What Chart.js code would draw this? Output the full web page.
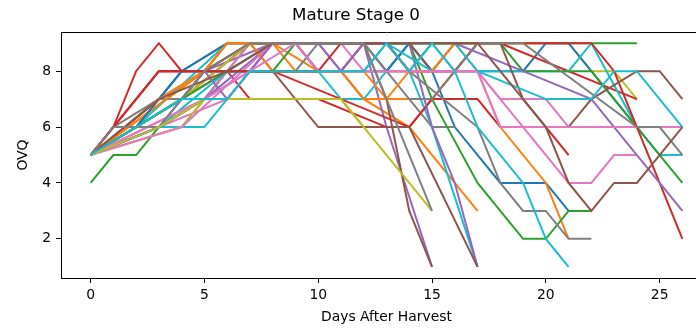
<!DOCTYPE html>
<html>
<head>
<meta charset="utf-8">
<script src="https://cdn.jsdelivr.net/npm/chart.js@4"></script>
<style>
  html, body { margin: 0; padding: 0; background: #fff; overflow: hidden; }
  #wrap { width: 712px; height: 329px; }
</style>
</head>
<body>
<div id="wrap"><canvas id="ovqChart" width="712" height="329"></canvas></div>
<script>
// OVQ readings per fruit: [day after harvest, score]
const seriesPoints = [
    [[0,5],[3,7],[4,8],[6,9],[14,9],[15,8],[16,6],[18,4],[20,4],[21,3]],
    [[0,5],[5,8],[6,9],[8,9],[9,8],[11,8],[12,7],[14,6],[17,3]],
    [[0,4],[1,5],[2,5],[3,6],[4,6],[5,7],[6,8],[7,9],[24,9]],
    [[0,5],[1,6],[2,8],[3,9],[4,8],[6,8],[7,7],[10,7],[13,6],[14,6],[15,7],[17,7],[18,6],[20,6],[21,5]],
    [[0,5],[4,7],[5,8],[8,9],[12,9],[13,6],[15,1]],
    [[0,5],[3,7],[7,9],[12,9],[13,7],[14,3],[15,1]],
    [[0,5],[6,7],[8,9],[9,9],[10,8],[17,8],[18,7],[21,4],[22,4],[23,5],[24,5]],
    [[0,5],[3,7],[5,7],[6,8],[11,8],[12,7],[14,7],[15,6],[16,6]],
    [[0,5],[4,7],[6,8],[8,9],[21,9],[22,8],[23,8],[24,7]],
    [[0,5],[3,6],[5,6],[7,8],[10,8],[11,7],[12,7],[13,8],[14,8],[15,6],[17,1]],
    [[0,5],[2,6],[4,7],[5,8],[13,8],[14,9],[15,8],[17,8],[19,8],[20,9],[21,9],[22,8],[24,6]],
    [[0,5],[5,8],[6,9],[12,9],[13,8],[15,8],[16,9],[17,8],[18,6],[20,4],[21,2]],
    [[0,5],[3,6],[5,7],[6,8],[8,9],[14,9],[15,7],[17,4],[19,2],[20,2],[21,3],[22,3]],
    [[0,5],[1,6],[3,8],[8,8],[14,6],[16,8],[17,9],[18,9],[24,7]],
    [[0,5],[3,6],[7,8],[8,9],[10,9],[11,8],[12,9],[14,9],[15,6],[16,4],[17,1]],
    [[0,5],[4,7],[7,9],[10,6],[14,6],[17,1]],
    [[0,5],[5,7],[7,9],[11,9],[12,8],[17,8],[18,7],[20,7],[21,6],[26,6]],
    [[0,5],[1,6],[5,8],[6,8],[8,9],[13,9],[14,8],[17,6],[18,4],[19,3],[20,3],[21,2],[22,2]],
    [[0,5],[4,6],[5,7],[11,7],[12,6],[14,4],[15,3]],
    [[0,5],[2,6],[6,9],[9,9],[10,8],[13,8],[14,9],[15,9],[16,8],[21,8],[22,9],[24,6],[25,5],[26,5]],
    [[0,5],[2,6],[4,8],[6,9],[12,9],[13,8],[14,9]],
    [[0,5],[5,8],[6,9],[8,9],[10,8],[12,8],[13,7],[15,7],[16,8],[17,9],[18,9]],
    [[0,5],[2,6],[4,7],[5,8],[7,9],[13,9],[14,8],[15,9],[18,9],[19,8],[22,8],[23,7],[24,6],[25,5],[26,4]],
    [[0,5],[1,6],[3,8],[5,8],[7,9],[9,9],[10,8],[11,8],[12,9],[13,9],[14,8],[16,8],[17,9],[22,9],[23,8],[24,6],[25,4],[26,2]],
    [[0,5],[3,6],[5,7],[8,9],[10,9],[11,8],[12,9],[16,9],[19,8],[22,7],[23,6],[24,5],[25,4],[26,3]],
    [[0,5],[4,7],[7,9],[14,9],[15,8],[16,9],[18,9],[19,7],[20,6],[21,6],[22,7],[24,8],[25,8],[26,7]],
    [[0,5],[4,6],[8,9],[13,9],[14,8],[17,8],[18,6],[26,6]],
    [[0,5],[2,6],[4,7],[6,8],[9,8],[10,9],[12,9],[13,8],[14,7],[15,7],[16,8],[17,9],[19,9],[24,6],[25,6],[26,5]],
    [[0,5],[2,6],[4,7],[7,9],[12,9]],
    [[0,5],[3,6],[6,8],[12,8],[13,9],[15,8],[16,9],[17,8],[20,7],[22,7],[23,8],[24,8],[26,6]],
    [[0,5],[2,6],[3,7],[4,8],[10,8]],
    [[0,5],[3,7],[5,8],[6,9],[7,9],[8,8],[11,8],[12,7],[13,7],[14,8],[15,8],[16,9]],
    [[0,5],[2,6],[4,7],[6,8],[8,8],[9,9],[16,9]],
    [[0,5],[2,7],[3,8],[10,8],[11,9],[13,9],[14,8]],
    [[0,5],[3,6],[5,8],[6,7],[7,8],[8,9],[13,9]],
    [[0,5],[3,7],[6,8],[8,9],[13,9],[17,9],[18,8],[20,6],[21,4],[22,3],[23,4],[24,4],[25,5],[26,6]],
    [[0,5],[5,7],[7,8],[9,9],[10,8],[17,8]],
    [[0,5],[1,6],[3,6],[4,7],[5,8],[7,9],[12,9],[13,7],[14,5],[15,3]],
    [[0,5],[3,6],[5,7],[11,7],[12,6]],
    [[0,5],[4,7],[6,7],[7,8],[12,8],[13,9],[14,8],[15,9],[16,8],[17,6],[18,5],[19,4],[20,2],[21,1]]
];

const xTicks = [0, 5, 10, 15, 20, 25];
const yTicks = [2, 4, 6, 8];

// matplotlib tab10 cycle
const palette = ['#1f77b4', '#ff7f0e', '#2ca02c', '#d62728', '#9467bd',
                 '#8c564b', '#e377c2', '#7f7f7f', '#bcbd22', '#17becf'];

const FONT = 'DejaVu Sans';

const datasets = seriesPoints.map((pts, i) => ({
    data: pts,
    borderColor: palette[i % palette.length],
    backgroundColor: palette[i % palette.length],
    borderWidth: 2,
    pointRadius: 0,
    tension: 0,
    fill: false,
    order: seriesPoints.length - i   // later series drawn on top
}));

// top spine of the axes box
const frame = {
    id: 'frame',
    afterDraw(chart) {
        const { ctx, chartArea } = chart;
        const y = Math.round(chartArea.top) + 0.5;
        ctx.save();
        ctx.strokeStyle = '#000';
        ctx.lineWidth = 1;
        ctx.beginPath();
        ctx.moveTo(chartArea.left, y);
        ctx.lineTo(chartArea.right, y);
        ctx.stroke();
        ctx.restore();
    }
};

new Chart(document.getElementById('ovqChart'), {
    type: 'line',
    data: { datasets },
    plugins: [frame],
    options: {
        responsive: false,
        animation: false,
        events: [],
        layout: { padding: 0 },
        plugins: {
            legend: { display: false },
            tooltip: { enabled: false },
            title: {
                display: true,
                text: 'Mature Stage 0',
                color: '#000',
                font: { family: FONT, size: 16.7, weight: 'normal', lineHeight: 1.2 },
                padding: { top: 6, bottom: 6 }
            }
        },
        scales: {
            x: {
                type: 'linear',
                min: -1.3,
                max: 27.3,
                afterBuildTicks: (scale) => { scale.ticks = xTicks.map(v => ({ value: v })); },
                afterFit: (scale) => { scale.height = 51; },
                ticks: {
                    color: '#000',
                    font: { family: FONT, size: 13.9 },
                    padding: 4,
                    maxRotation: 0
                },
                grid: { drawOnChartArea: false, drawTicks: true, tickLength: 5, color: '#000', lineWidth: 1 },
                border: { display: true, color: '#000', width: 1 },
                title: {
                    display: true,
                    text: 'Days After Harvest',
                    color: '#000',
                    font: { family: FONT, size: 13.9, lineHeight: 1.2 },
                    padding: { top: 0, bottom: 3 }
                }
            },
            y: {
                type: 'linear',
                min: 0.6,
                max: 9.4,
                afterBuildTicks: (scale) => { scale.ticks = yTicks.map(v => ({ value: v })); },
                afterFit: (scale) => { scale.width = 61; },
                ticks: {
                    color: '#000',
                    font: { family: FONT, size: 13.9 },
                    padding: 5
                },
                grid: { drawOnChartArea: false, drawTicks: true, tickLength: 5, color: '#000', lineWidth: 1 },
                border: { display: true, color: '#000', width: 1 },
                title: {
                    display: true,
                    text: 'OVQ',
                    color: '#000',
                    font: { family: FONT, size: 13.9, lineHeight: 1.2 },
                    padding: { top: 15, bottom: 0 }
                }
            }
        }
    }
});
</script>
</body>
</html>
